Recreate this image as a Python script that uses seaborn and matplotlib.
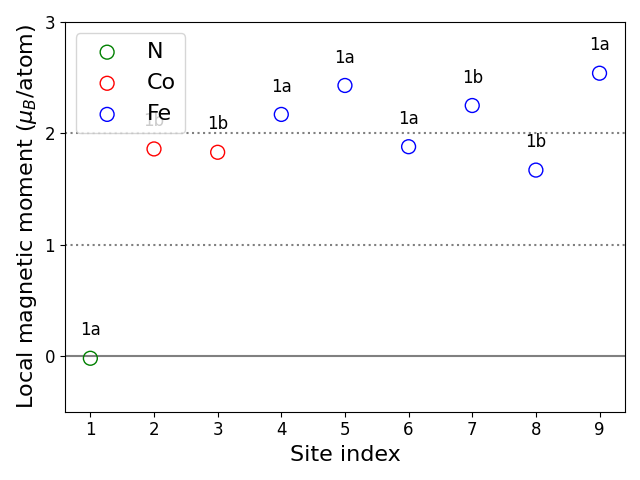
import matplotlib
matplotlib.use("Agg")
import matplotlib.pyplot as plt
import seaborn as sns
import pandas as pd

sites = [1, 2, 3, 4, 5, 6, 7, 8, 9]
moments = [-0.02, 1.86, 1.83, 2.17, 2.43, 1.88, 2.25, 1.67, 2.54]
elements = ["N", "Co", "Co", "Fe", "Fe", "Fe", "Fe", "Fe", "Fe"]
wyckoff = ["1a", "1b", "1b", "1a", "1a", "1a", "1b", "1b", "1a"]
element_order = ["N", "Co", "Fe"]
element_colors = {"N": "green", "Co": "red", "Fe": "blue"}

df = pd.DataFrame({"site": sites, "moment": moments, "element": elements, "label": wyckoff})

fig, ax = plt.subplots(figsize=(6.4, 4.8), dpi=100)
ax.axhline(0, color="gray", linestyle="-", zorder=0)
ax.axhline(1, color="gray", linestyle=":", zorder=0)
ax.axhline(2, color="gray", linestyle=":", zorder=0)

for el in element_order:
    sub = df[df["element"] == el]
    sns.scatterplot(data=sub, x="site", y="moment", ax=ax, s=100, marker="o",
                    facecolor="none", edgecolor=element_colors[el], linewidth=1,
                    label=el, zorder=3)

for _, r in df.iterrows():
    ax.text(r["site"], r["moment"] + 0.25, r["label"], ha="center", va="center",
            fontsize=12)

ax.set_xlim(0.6, 9.4)
ax.set_ylim(-0.5, 3)
ax.set_xticks(sites)
ax.set_yticks([0, 1, 2, 3])
ax.tick_params(labelsize=12)
ax.set_xlabel("Site index", fontsize=16)
ax.set_ylabel(r"Local magnetic moment ($\mu_B$/atom)", fontsize=16)
ax.legend(loc="upper left", fontsize=16)
fig.tight_layout()
fig.savefig("out.png", dpi=100)
